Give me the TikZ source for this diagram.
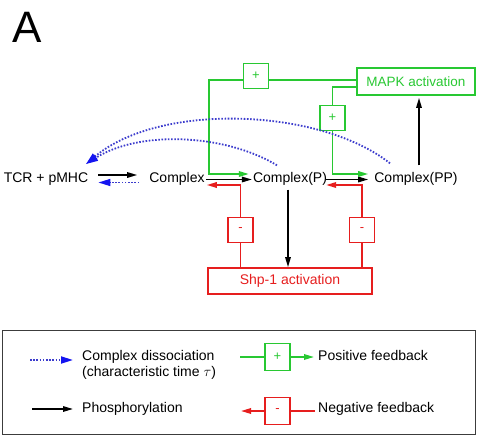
\documentclass[tikz,border=0pt]{standalone}
\usepackage{fontspec}
\setmainfont{Liberation Sans}
\usetikzlibrary{arrows.meta,calc}
\definecolor{fgreen}{RGB}{40,200,50}
\definecolor{fred}{RGB}{230,30,30}
\definecolor{fblue}{RGB}{20,20,240}
\definecolor{dotblue}{RGB}{60,60,205}
\definecolor{legframe}{RGB}{60,60,60}
\begin{document}
\begin{tikzpicture}[x=1pt,y=-1pt,
  txt/.style={font=\fontsize{14}{16}\selectfont, inner sep=0pt, text height=10pt, text depth=3pt},
  arrtip/.style={-{Triangle[length=10pt,width=5.5pt]}},
  phos/.style={black,line width=1.5pt,arrtip},
  posfb/.style={fgreen,line width=1.7pt},
  negfb/.style={fred,line width=1.7pt},
  sgnbox/.style={draw,line width=1.7pt,minimum width=25pt,minimum height=25pt,inner sep=0pt,font=\fontsize{13}{13}\selectfont},
  diss/.style={dotblue,line width=1.8pt,dash pattern=on 1.6pt off 1.6pt,-{Triangle[length=12pt,width=7pt,color=fblue]}},
  bigbox/.style={draw,line width=1.7pt,inner sep=0pt,font=\fontsize{14}{16}\selectfont}
]
\useasboundingbox (0,0) rectangle (477,437);

\node[inner sep=0pt,font=\fontsize{44}{44}\selectfont] (lab) at (27,27) {A};

% species
\node[txt] (tcr) at (46,179) {TCR + pMHC};
\node[txt] (cx) at (177,179) {Complex};
\node[txt] (cp) at (290,179) {Complex(P)};
\node[txt] (cpp) at (416,179) {Complex(PP)};

% boxes
\node[bigbox,draw=fgreen,text=fgreen,minimum width=118pt,minimum height=27pt,font=\fontsize{13.5}{15}\selectfont] (mapk) at (416,81.5) {MAPK activation};
\node[bigbox,draw=fred,text=fred,minimum width=164pt,minimum height=26pt] (shp) at (290,281) {Shp-1 activation};
\node[sgnbox,draw=fgreen,text=fgreen] (p1) at (256,76) {+};
\node[sgnbox,draw=fgreen,text=fgreen] (p2) at (332.5,118) {+};
\node[sgnbox,draw=fred,text=fred] (m1) at (240.5,230) {-};
\node[sgnbox,draw=fred,text=fred] (m2) at (362,230) {-};

% binding / unbinding
\draw[phos] ($(tcr.east)+(10,-4)$) -- ($(cx.west)+(-12,-4)$);
\draw[diss,line width=1.6pt] ($(cx.west)+(-10,3.5)$) -- ($(tcr.east)+(10,3.5)$);

% phosphorylation
\draw[phos] ($(cx.east)+(1,0.5)$) -- ($(cp.west)+(-1,0.5)$);
\draw[phos] ($(cp.east)+(-1,0.5)$) -- ($(cpp.west)+(-6,0.5)$);
\coordinate (cpd) at ($(cp.south)+(-2,4)$);
\draw[phos] (cpd) -- (cpd |- shp.north);
\draw[phos] ($(cpp.north)+(3,-7)$) -- ($(mapk.south)+(3,2)$);

% positive feedback
\draw[posfb] ([yshift=-4pt]p1.east) -- ([yshift=-4pt]p1.east -| mapk.west);
\draw[posfb,arrtip] ([yshift=-4pt]p1.west) -| ($(cx.east)+(4.4,-5)$) -- ($(cp.west)+(-4,-5)$);
\draw[posfb] (p2.north) |- ($(mapk.west)+(0,5.5)$);
\draw[posfb,arrtip] (p2.south) |- ($(cpp.west)+(-6,-5)$);

% negative feedback
\draw[negfb] (shp.north -| m1) -- (m1.south);
\draw[negfb,arrtip] (m1.north) |- ($(cx.east)+(2,6)$);
\draw[negfb] (shp.north -| m2) -- (m2.south);
\draw[negfb,arrtip] (m2.north) |- ($(cp.east)+(-1,6)$);

% dissociation
\coordinate (dtip) at (86,164);
\draw[diss] ($(cpp.north)+(-26,-9)$) .. controls (320,108) and (160,102) .. (dtip);
\draw[diss] ($(cp.north)+(-13,-7)$) .. controls (225,134) and (140,130) .. (dtip);

% legend
\node[draw=legframe,line width=1.8pt,minimum width=473pt,minimum height=104pt,inner sep=0pt] (leg) at (239,382.5) {};
\coordinate (l1a) at (30,360); \coordinate (l1b) at (73,360);
\draw[diss] (l1a) -- (l1b);
\node[anchor=west,align=left,inner sep=0pt,font=\fontsize{14}{16}\selectfont] (l1t) at (82,365) {Complex dissociation\\(characteristic time $\tau$)};
\coordinate (l2a) at (32,409); \coordinate (l2b) at (73,409);
\draw[phos] (l2a) -- (l2b);
\node[txt,anchor=west] (l2t) at (82,409) {Phosphorylation};
\node[sgnbox,draw=fgreen,text=fgreen,minimum height=27pt] (lp) at (277.5,357) {+};
\coordinate (l3a) at (240,357); \coordinate (l3b) at (314,357);
\draw[posfb] (l3a) -- (lp.west);
\draw[posfb,arrtip] (lp.east) -- (l3b);
\node[txt,anchor=west] (l3t) at (318,357) {Positive feedback};
\node[sgnbox,draw=fred,text=fred,minimum height=27pt] (ln) at (277.5,411) {-};
\coordinate (l4a) at (241,411); \coordinate (l4b) at (315,411);
\draw[negfb,arrtip] (ln.west) -- (l4a);
\draw[negfb] (ln.east) -- (l4b);
\node[txt,anchor=west] (l4t) at (318,409) {Negative feedback};
\end{tikzpicture}
\end{document}
